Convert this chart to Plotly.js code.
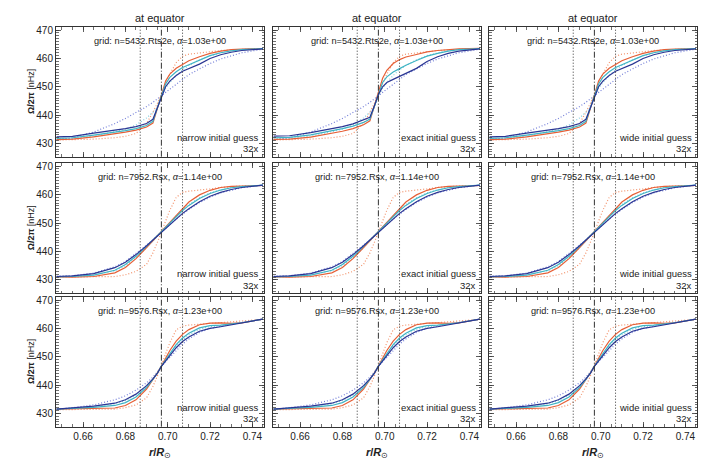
<!DOCTYPE html>
<html>
<head>
<meta charset="utf-8">
<script src="https://cdn.plot.ly/plotly-3.0.1.min.js"></script>
<style>
  html, body { margin: 0; padding: 0; background: #fff; }
  #plt { width: 714px; height: 464px; }
</style>
</head>
<body>
<div id="plt"></div>
<script>
// radius grid shared by all curves (r/Rsun)
var xGrid = [0.6475, 0.655, 0.665, 0.675, 0.68, 0.685, 0.69, 0.693, 0.695, 0.697, 0.699,
             0.701, 0.704, 0.707, 0.71, 0.715, 0.72, 0.725, 0.73, 0.735, 0.745];

// row 1 : grid n=5432.Rts2e
var r1Navy  = [432.3, 432.5, 433.6, 434.6, 435.2, 435.9, 437.0, 438.5, 442.5, 446.5, 450.0, 452.0, 454.0, 455.5, 456.5, 458.0, 460.0, 461.3, 462.2, 462.8, 463.4];
var r1Teal  = [431.8, 432.0, 432.9, 433.9, 434.5, 435.2, 436.3, 437.8, 442.5, 446.8, 451.0, 453.3, 455.3, 456.8, 457.8, 459.3, 461.0, 462.0, 462.7, 463.1, 463.5];
var r1Red   = [431.3, 431.5, 432.3, 433.3, 434.0, 434.7, 435.8, 437.2, 442.5, 447.0, 452.0, 454.5, 456.5, 458.0, 459.2, 460.6, 461.8, 462.6, 463.1, 463.3, 463.5];
var r1NavyExact = [432.6, 432.7, 433.8, 435.2, 435.9, 436.9, 438.2, 439.2, 443.0, 447.2, 450.0, 451.5, 452.6, 453.6, 454.8, 456.5, 458.9, 460.6, 461.8, 462.6, 463.4];
var r1TealExact = [432.0, 432.1, 433.0, 434.4, 435.2, 436.1, 437.4, 438.6, 443.0, 447.6, 451.5, 453.5, 455.2, 456.4, 457.6, 459.3, 460.8, 461.8, 462.6, 463.1, 463.5];
var r1RedExact  = [431.4, 431.5, 432.2, 433.5, 434.3, 435.2, 436.6, 438.0, 443.0, 448.2, 453.0, 455.8, 458.2, 459.6, 460.5, 461.4, 462.3, 462.8, 463.2, 463.4, 463.6];
var r1DotBlue   = [431.3, 432.0, 434.0, 437.0, 438.8, 440.8, 443.0, 444.5, 445.5, 446.8, 448.0, 449.2, 451.0, 452.8, 454.3, 456.3, 458.2, 459.8, 461.0, 462.0, 463.3];
var r1DotCyan   = [431.5, 431.8, 432.5, 434.0, 435.0, 436.5, 439.0, 441.0, 442.5, 446.5, 449.5, 451.5, 454.0, 456.0, 457.5, 459.5, 461.0, 462.0, 462.8, 463.2, 463.5];
var r1DotOrange = [431.2, 431.3, 431.5, 432.0, 432.5, 433.5, 437.0, 441.0, 444.0, 447.0, 451.0, 454.5, 458.5, 460.8, 461.5, 462.0, 462.5, 462.8, 463.0, 463.2, 463.5];

// row 2 : grid n=7952.Rsx
var r2Navy  = [431.2, 431.4, 432.2, 434.3, 436.2, 438.9, 442.0, 444.0, 445.4, 446.8, 448.2, 449.6, 451.6, 453.4, 455.0, 457.5, 459.4, 460.8, 461.8, 462.5, 463.3];
var r2Teal  = [431.1, 431.2, 431.7, 433.4, 435.4, 438.3, 441.8, 444.0, 445.4, 446.9, 448.5, 450.0, 452.2, 454.4, 456.2, 458.6, 460.4, 461.6, 462.4, 462.8, 463.3];
var r2Red   = [431.1, 431.0, 431.2, 432.5, 434.4, 437.5, 441.4, 443.8, 445.4, 447.0, 448.7, 450.4, 452.9, 455.3, 457.4, 459.9, 461.5, 462.5, 462.9, 463.0, 463.2];
var r2DotBlue   = [431.3, 431.5, 432.4, 434.6, 436.5, 439.2, 442.2, 444.1, 445.5, 446.8, 448.1, 449.5, 451.4, 453.2, 454.8, 457.2, 459.1, 460.6, 461.6, 462.4, 463.3];
var r2DotCyan   = [431.2, 431.3, 431.8, 433.2, 435.0, 437.8, 441.3, 443.7, 445.3, 446.9, 448.6, 450.2, 452.6, 454.8, 456.6, 458.9, 460.6, 461.7, 462.4, 462.8, 463.3];
var r2DotOrange = [431.0, 431.0, 431.0, 431.2, 431.8, 433.0, 435.5, 439.5, 443.0, 447.0, 451.0, 454.5, 459.0, 460.8, 461.2, 461.5, 462.0, 462.5, 462.8, 463.0, 463.2];

// row 3 : grid n=9576.Rsx
var r3Navy  = [431.5, 431.9, 432.6, 433.6, 434.8, 436.8, 439.8, 442.2, 444.0, 446.6, 448.6, 450.6, 453.2, 455.4, 457.0, 459.0, 460.0, 460.6, 461.3, 462.0, 463.3];
var r3Teal  = [431.5, 431.7, 432.1, 432.8, 433.8, 435.8, 439.2, 442.0, 444.1, 446.7, 449.0, 451.3, 454.3, 456.6, 458.3, 460.2, 461.0, 461.2, 461.5, 462.0, 463.3];
var r3Red   = [431.5, 431.6, 431.6, 431.9, 432.8, 434.8, 438.6, 441.7, 444.2, 446.7, 449.5, 452.2, 455.5, 457.9, 459.6, 461.3, 461.9, 462.0, 461.8, 462.0, 463.3];
var r3DotBlue   = [431.5, 432.0, 433.0, 434.8, 436.2, 438.2, 440.8, 442.8, 444.5, 446.6, 448.2, 449.8, 452.3, 454.5, 456.3, 458.6, 460.0, 460.8, 461.5, 462.1, 463.3];
var r3DotCyan   = [431.5, 431.8, 432.4, 433.4, 434.5, 436.5, 439.6, 442.2, 444.1, 446.7, 448.8, 451.0, 453.8, 456.0, 457.7, 459.7, 460.6, 461.0, 461.4, 462.0, 463.3];
var r3DotOrange = [431.3, 431.3, 431.3, 431.5, 432.0, 433.0, 435.5, 439.5, 443.0, 447.0, 451.0, 455.0, 459.5, 460.8, 461.2, 461.5, 461.8, 462.0, 462.2, 462.5, 463.2];

var gridLabels  = ['grid: n=5432.Rts2e, <i>α</i>=1.03e+00',
                   'grid: n=7952.Rsx, <i>α</i>=1.14e+00',
                   'grid: n=9576.Rsx, <i>α</i>=1.23e+00'];
var guessLabels = ['narrow initial guess', 'exact initial guess', 'wide initial guess'];
var colTitle = 'at equator';
var zoomLabel = '32x';
var guideX = [0.687, 0.697, 0.707];   // dotted, dash-dot, dotted
var xTicks = [0.66, 0.68, 0.70, 0.72, 0.74];
var xTickText = ['0.66', '0.68', '0.70', '0.72', '0.74'];
var yTicks = [430, 440, 450, 460, 470];

var rows = [
    {navy: r1Navy, teal: r1Teal, red: r1Red, dBlue: r1DotBlue, dCyan: r1DotCyan, dOrange: r1DotOrange},
    {navy: r2Navy, teal: r2Teal, red: r2Red, dBlue: r2DotBlue, dCyan: r2DotCyan, dOrange: r2DotOrange},
    {navy: r3Navy, teal: r3Teal, red: r3Red, dBlue: r3DotBlue, dCyan: r3DotCyan, dOrange: r3DotOrange}
];
var exactRow1 = {navy: r1NavyExact, teal: r1TealExact, red: r1RedExact,
                 dBlue: r1DotBlue, dCyan: r1DotCyan, dOrange: r1DotOrange};

// pixel boxes of the panels
var W = 714, H = 464;
var colPx = [[56, 264], [273, 481], [489, 697]];
var rowPx = [[27.3, 156.7], [163.3, 293.3], [297.3, 426.7]];

var FONT = 'Liberation Sans, Arial, sans-serif';
var INK = '#222';

var data = [];
var layout = {
    width: W, height: H,
    margin: {l: 0, r: 0, t: 0, b: 0},
    paper_bgcolor: '#fff', plot_bgcolor: '#fff',
    showlegend: false,
    font: {family: FONT, size: 10, color: INK},
    annotations: [], shapes: []
};

for (var r = 0; r < 3; r++) {
    for (var c = 0; c < 3; c++) {
        var k = r * 3 + c + 1;
        var xa = 'x' + (k === 1 ? '' : k), ya = 'y' + (k === 1 ? '' : k);
        var set = (r === 0 && c === 1) ? exactRow1 : rows[r];

        var series = [
            {y: set.dOrange, color: '#f2936c', dash: '1px,2px', w: 1.2},
            {y: set.dCyan, color: '#86cfe0', dash: '1px,2px', w: 1.2},
            {y: set.dBlue, color: '#737ed8', dash: '1px,2px', w: 1.2},
            {y: set.red, color: '#e65f36', dash: 'solid', w: 1.2},
            {y: set.teal, color: '#3fb4c4', dash: 'solid', w: 1.2},
            {y: set.navy, color: '#2a3593', dash: 'solid', w: 1.2}
        ];
        series.forEach(function (s) {
            data.push({x: xGrid, y: s.y, xaxis: xa, yaxis: ya, type: 'scatter', mode: 'lines',
                       line: {color: s.color, width: s.w, dash: s.dash}, hoverinfo: 'skip'});
        });

        var axisCommon = {
            showline: true, linecolor: '#333', linewidth: 1, mirror: 'allticks',
            ticks: 'inside', ticklen: 5, tickwidth: 0.8, tickcolor: '#333',
            showgrid: false, zeroline: false,
            tickfont: {family: FONT, size: 10, color: INK}
        };
        layout['xaxis' + (k === 1 ? '' : k)] = Object.assign({}, axisCommon, {
            domain: [colPx[c][0] / W, colPx[c][1] / W],
            anchor: ya, range: [0.6472, 0.7455],
            tickmode: 'array', tickvals: xTicks, ticktext: xTickText,
            showticklabels: r === 2,
            minor: {dtick: 0.005, tick0: 0.66, ticks: 'inside', ticklen: 2.5, tickcolor: '#333', tickwidth: 0.7}
        });
        layout['yaxis' + (k === 1 ? '' : k)] = Object.assign({}, axisCommon, {
            domain: [1 - rowPx[r][1] / H, 1 - rowPx[r][0] / H],
            anchor: xa, range: [425.3, 471],
            tickmode: 'array', tickvals: yTicks,
            showticklabels: c === 0,
            minor: {dtick: 1, tick0: 430, ticks: 'inside', ticklen: 2.5, tickcolor: '#333', tickwidth: 0.7}
        });

        guideX.forEach(function (gx, i) {
            layout.shapes.push({type: 'line', xref: xa, yref: ya + ' domain',
                x0: gx, x1: gx, y0: 0, y1: 1,
                line: {color: '#333', width: 1, dash: i === 1 ? '6px,2px,1px,2px' : '1px,2px'}});
        });

        layout.annotations.push(
            {xref: xa + ' domain', yref: ya + ' domain', x: 0.5, y: 0.895, showarrow: false,
             text: gridLabels[r], xanchor: 'center', yanchor: 'middle', font: {size: 9.2}},
            {xref: xa + ' domain', yref: ya + ' domain', x: 0.985, y: 0.15, showarrow: false,
             text: guessLabels[c], xanchor: 'right', yanchor: 'middle', font: {size: 9.5}},
            {xref: xa + ' domain', yref: ya + ' domain', x: 0.985, y: 0.062, showarrow: false,
             text: zoomLabel, xanchor: 'right', yanchor: 'middle', font: {size: 9.5}}
        );

        if (r === 0) {
            layout.annotations.push({xref: 'paper', yref: 'paper',
                x: (colPx[c][0] + colPx[c][1]) / 2 / W, y: 1 - 18 / H, showarrow: false,
                text: colTitle, xanchor: 'center', yanchor: 'middle', font: {size: 11}});
        }
        if (r === 2) {
            layout.annotations.push({xref: 'paper', yref: 'paper',
                x: (colPx[c][0] + colPx[c][1]) / 2 / W, y: 1 - 453 / H, showarrow: false,
                text: '<b><i>r</i>/<i>R</i></b><sub>⊙</sub>', xanchor: 'center', yanchor: 'middle',
                font: {size: 11}});
        }
        if (c === 0) {
            layout.annotations.push({xref: 'paper', yref: 'paper',
                x: 31 / W, y: 1 - (rowPx[r][0] + rowPx[r][1]) / 2 / H, showarrow: false,
                text: '<b>Ω/2π</b> [nHz]', textangle: -90, xanchor: 'center', yanchor: 'middle',
                font: {size: 9}});
        }
    }
}

Plotly.newPlot('plt', data, layout, {staticPlot: true});
</script>
</body>
</html>
